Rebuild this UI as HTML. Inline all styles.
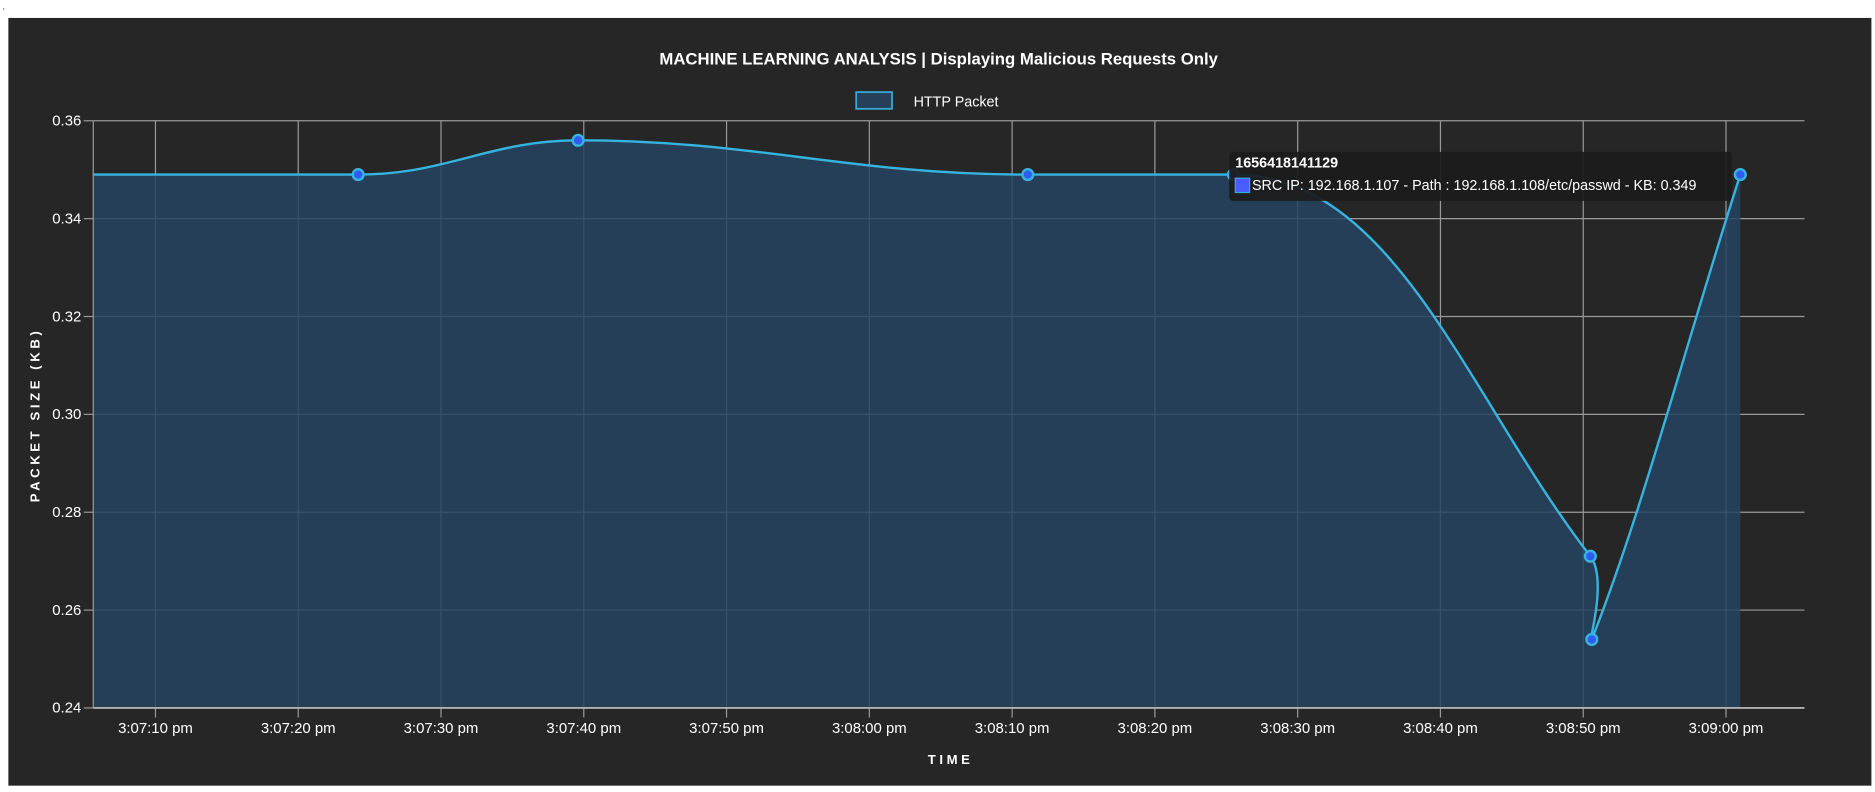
<!DOCTYPE html>
<html><head><meta charset="utf-8">
<style>
html,body{margin:0;padding:0;background:#fff;width:1875px;height:792px;overflow:hidden}
svg{display:block}
text{font-family:"Liberation Sans",sans-serif}
</style></head>
<body>
<svg id="chart" width="1875" height="792" viewBox="0 0 1568 662.3" preserveAspectRatio="none" xmlns="http://www.w3.org/2000/svg">
<text x="2" y="8" font-size="8" fill="#000">.</text>
<rect x="7" y="15" width="1558" height="642" fill="#262626"/>
<text x="785" y="54" text-anchor="middle" font-size="14" font-weight="bold" fill="#fff">MACHINE LEARNING ANALYSIS | Displaying Malicious Requests Only</text>
<g>
<rect x="716" y="77" width="30" height="14" fill="#27405a" stroke="#36a9d6" stroke-width="1.5"/>
<text x="764" y="89" font-size="12" fill="#fff">HTTP Packet</text>
</g>
<g id="grid"></g>
<g id="area"></g>
<g id="axes"></g>
<g id="points"></g>
<text transform="translate(33,347) rotate(-90)" text-anchor="middle" font-size="11" font-weight="bold" letter-spacing="3" fill="#fff">PACKET SIZE (KB)</text>
<text x="795" y="639" text-anchor="middle" font-size="11" font-weight="bold" letter-spacing="3" fill="#fff">TIME</text>
<g>
<rect x="1028" y="127" width="420" height="41" rx="3" fill="#1b1b1b" fill-opacity="0.92"/>
<text x="1033" y="140" font-size="12" font-weight="bold" fill="#fff">1656418141129</text>
<rect x="1033" y="149" width="12" height="12" fill="#4a5cff" stroke="#36a9d6" stroke-width="1"/>
<text x="1047" y="159" font-size="12" fill="#fff">SRC IP: 192.168.1.107 - Path : 192.168.1.108/etc/passwd - KB: 0.349</text>
</g>
</svg>
<script>
// data
const times = [5.6, 24.2, 39.6, 71.1, 85.5, 110.5, 110.6, 121.0]; // seconds after 3:07:00 pm
const values = [0.349, 0.349, 0.356, 0.349, 0.349, 0.271, 0.254, 0.349];
const showMarker = [false, true, true, true, true, true, true, true];
const yTicks = [0.24, 0.26, 0.28, 0.30, 0.32, 0.34, 0.36];
const xTickSecs = [10, 20, 30, 40, 50, 60, 70, 80, 90, 100, 110, 120];
const xTickLabels = ["3:07:10 pm","3:07:20 pm","3:07:30 pm","3:07:40 pm","3:07:50 pm","3:08:00 pm","3:08:10 pm","3:08:20 pm","3:08:30 pm","3:08:40 pm","3:08:50 pm","3:09:00 pm"];

const L=78,R=1509,T=101,B=592;
const NS='http://www.w3.org/2000/svg';
function xs(t){return 130+(t-10)*11.94;}
function ys(v){return B-(v-0.24)/(0.12)*(B-T);}
function mk(tag,attrs,parent){const e=document.createElementNS(NS,tag);for(const k in attrs)e.setAttribute(k,attrs[k]);parent.appendChild(e);return e;}
const grid=document.getElementById('grid'),axes=document.getElementById('axes'),area=document.getElementById('area'),pts=document.getElementById('points');

yTicks.forEach((v,i)=>{
  const y=ys(v);
  const g=mk('line',{x1:L,x2:R,y1:y,y2:y,stroke:'#9a9a9a','stroke-width':1},grid);
  
  
  const tk=mk('line',{x1:L-8,x2:L,y1:y,y2:y,stroke:'#9a9a9a','stroke-width':1},axes);
  
  
  const t=mk('text',{x:L-10,y:y+4,'text-anchor':'end','font-size':12.5,fill:'#fff'},axes);
  t.textContent=v.toFixed(2);
  
  
});
xTickSecs.forEach((s,i)=>{
  const x=xs(s);
  const g=mk('line',{x1:x,x2:x,y1:T,y2:B,stroke:'#9a9a9a','stroke-width':1},grid);
  
  
  const tk=mk('line',{x1:x,x2:x,y1:B,y2:B+8,stroke:'#9a9a9a','stroke-width':1},axes);
  
  
  const t=mk('text',{x:x,y:B+21,'text-anchor':'middle','font-size':12.5,fill:'#fff'},axes);
  t.textContent=xTickLabels[i];
  
  
});
const la=mk('line',{x1:L,x2:L,y1:T,y2:B,stroke:'#9a9a9a','stroke-width':1},axes);


const lb=mk('line',{x1:L,x2:R,y1:B,y2:B,stroke:'#b0b0b0','stroke-width':1.5},axes);



// cardinal spline (tension 0.4), flattened where a neighbour has equal value
const P=times.map((t,i)=>({x:xs(t),y:ys(values[i])}));
const n=P.length,tension=0.4;
const cps=P.map((p,i)=>{
  const prev=P[Math.max(0,i-1)],next=P[Math.min(n-1,i+1)];
  const d01=Math.hypot(p.x-prev.x,p.y-prev.y),d12=Math.hypot(next.x-p.x,next.y-p.y);
  const fa=tension*(d01/(d01+d12)||0),fb=tension*(d12/(d01+d12)||0);
  const flat=(i>0&&values[i-1]===values[i])||(i<n-1&&values[i+1]===values[i]);
  const dy=flat?0:(next.y-prev.y);
  return {px:p.x-fa*(next.x-prev.x),py:p.y-fa*dy,nx:p.x+fb*(next.x-prev.x),ny:p.y+fb*dy};
});
let d='M'+P[0].x+','+P[0].y;
for(let i=1;i<n;i++){
  d+=' C'+cps[i-1].nx+','+cps[i-1].ny+' '+cps[i].px+','+cps[i].py+' '+P[i].x+','+P[i].y;
}
const fill=mk('path',{d:d+' L'+P[n-1].x+','+B+' L'+P[0].x+','+B+' Z',fill:'rgb(39,68,99)','fill-opacity':0.85},area);


const line=mk('path',{d:d,fill:'none',stroke:'#36b4e0','stroke-width':2},area);


P.forEach((p,i)=>{
  if(!showMarker[i])return;
  const c=mk('circle',{cx:p.x,cy:p.y,r:4.5,fill:'#2f5cf0',stroke:'#36b4e0','stroke-width':2},pts);
  
  
});
</script>
</body></html>
